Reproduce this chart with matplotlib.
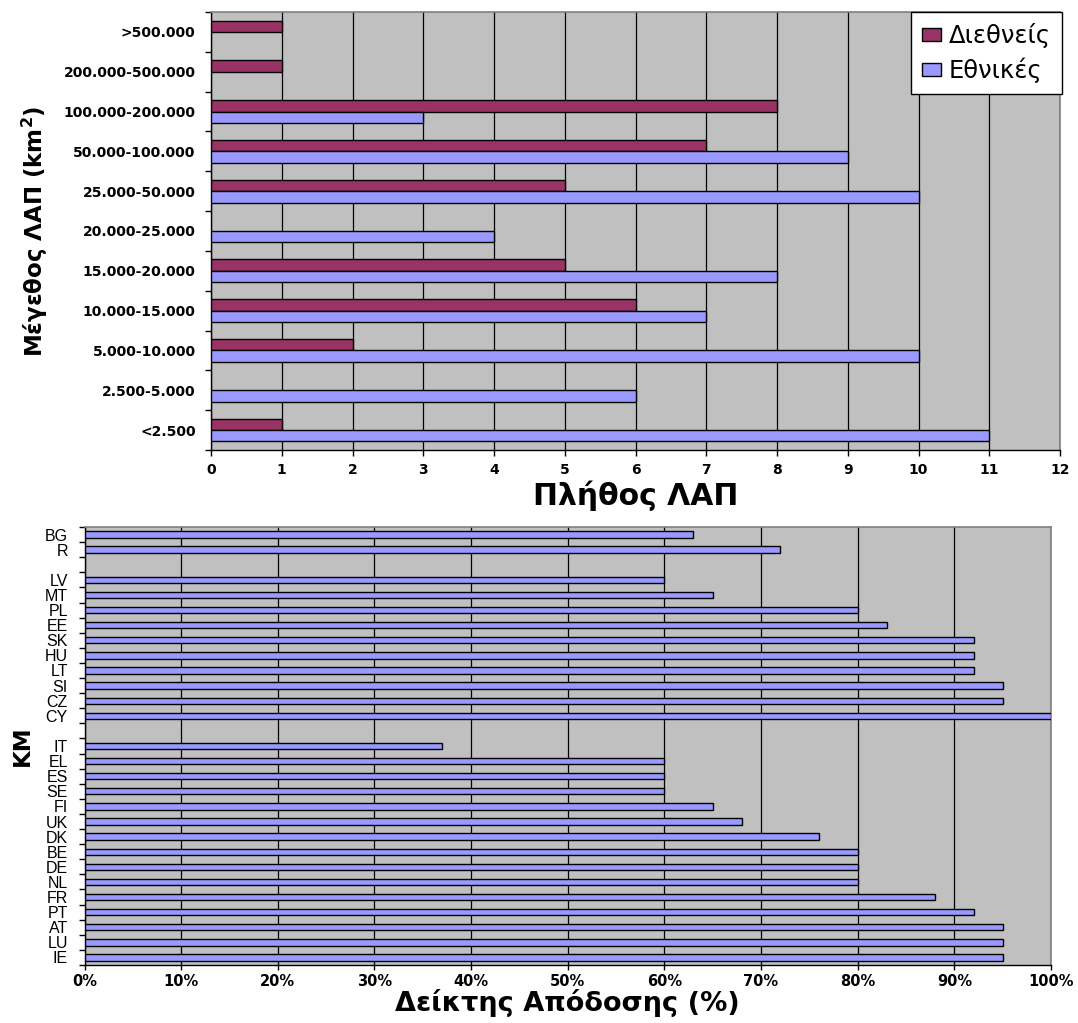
import numpy as np
import matplotlib
matplotlib.use("Agg")
import matplotlib.pyplot as plt
from matplotlib.patches import Patch
from matplotlib.ticker import FixedLocator, NullFormatter, FuncFormatter

# ---- Protected areas by size class (count) ----
size_classes = ["<2.500", "2.500-5.000", "5.000-10.000", "10.000-15.000",
                "15.000-20.000", "20.000-25.000", "25.000-50.000",
                "50.000-100.000", "100.000-200.000", "200.000-500.000",
                ">500.000"]
international = [1, 0, 2, 6, 5, 0, 5, 7, 8, 1, 1]
national = [11, 6, 10, 7, 8, 4, 10, 9, 3, 0, 0]
series_names = ["Διεθνείς", "Εθνικές"]

# ---- Performance index per member state (%), bottom to top; "" = spacer row ----
member_states = ["IE", "LU", "AT", "PT", "FR", "NL", "DE", "BE", "DK", "UK",
                 "FI", "SE", "ES", "EL", "IT", "",
                 "CY", "CZ", "SI", "LT", "HU", "SK", "EE", "PL", "MT", "LV", "",
                 "R", "BG"]
performance = [95, 95, 95, 92, 88, 80, 80, 80, 76, 68,
               65, 60, 60, 60, 37, None,
               100, 95, 95, 92, 92, 92, 83, 80, 65, 60, None,
               72, 63]

C_INT = "#993366"
C_NAT = "#9999FF"
BG = "#C0C0C0"
W, H = 1078, 1023

fig = plt.figure(figsize=(W / 100, H / 100), dpi=100)

def fig_rect(left, top, right, bottom):
    return [left / W, 1 - bottom / H, (right - left) / W, (bottom - top) / H]

BOLD = dict(family="DejaVu Sans", weight="bold")

def style_axes(ax):
    ax.set_facecolor(BG)
    ax.set_axisbelow(True)
    ax.xaxis.grid(True, color="black", lw=0.9)
    for s in ("left", "bottom"):
        ax.spines[s].set_color("black")
        ax.spines[s].set_linewidth(1.0)
    for s in ("top", "right"):
        ax.spines[s].set_color("#808080")
        ax.spines[s].set_linewidth(1.2)
    ax.tick_params(axis="x", which="major", direction="out", length=4,
                   width=1, color="black", pad=5)
    ax.tick_params(axis="y", which="major", direction="out", length=4.5,
                   width=1, color="black")
    ax.tick_params(axis="y", which="minor", length=0)

# ================= Top chart =================
ax1 = fig.add_axes(fig_rect(211, 12, 1060, 450))
style_axes(ax1)
n1 = len(size_classes)
pos1 = np.arange(n1)
bh = 0.285
int_v = np.array(international, dtype=float)
nat_v = np.array(national, dtype=float)
mi = int_v > 0
mn = nat_v > 0
ax1.barh(pos1[mi] + bh / 2, int_v[mi], height=bh, color=C_INT,
         edgecolor="black", lw=1.0, zorder=3)
ax1.barh(pos1[mn] - bh / 2, nat_v[mn], height=bh, color=C_NAT,
         edgecolor="black", lw=1.0, zorder=3)
ax1.set_xlim(0, 12)
ax1.set_ylim(-0.5, n1 - 0.5)
ax1.set_xticks(np.arange(0, 13, 1))
ax1.yaxis.set_major_locator(FixedLocator(np.arange(-0.5, n1, 1)))
ax1.yaxis.set_major_formatter(NullFormatter())
ax1.yaxis.set_minor_locator(FixedLocator(pos1))
ax1.set_yticklabels(size_classes, minor=True)
ax1.tick_params(axis="y", which="minor", pad=11)
for lbl in ax1.get_xticklabels():
    lbl.set(fontsize=10, **BOLD)
for lbl in ax1.get_yticklabels(minor=True):
    lbl.set(fontsize=10, **BOLD)
ax1.set_xlabel("Πλήθος ΛΑΠ", fontsize=21.5, labelpad=3, **BOLD)
ax1.set_ylabel("Μέγεθος ΛΑΠ (km$^\\mathbf{2}$)", fontsize=16.5, labelpad=10,
               **BOLD)

handles = [Patch(facecolor=C_INT, edgecolor="black", lw=1.0),
           Patch(facecolor=C_NAT, edgecolor="black", lw=1.0)]
leg = fig.legend(handles, series_names, loc="upper right",
                 bbox_to_anchor=(1062 / W, 1 - 12 / H),
                 bbox_transform=fig.transFigure, borderaxespad=0,
                 frameon=True, fancybox=False, framealpha=1,
                 edgecolor="black", prop=dict(family="DejaVu Sans", size=17.5),
                 handlelength=0.75, handleheight=0.45, handletextpad=0.35,
                 labelspacing=0.4, borderpad=0.45)
leg.get_frame().set_linewidth(1.0)

# ================= Bottom chart =================
ax2 = fig.add_axes(fig_rect(84.5, 527, 1051, 965))
style_axes(ax2)
n2 = len(member_states)
pos2 = np.arange(n2)
perf = np.array([np.nan if v is None else v for v in performance], dtype=float)
mp = ~np.isnan(perf)
ax2.barh(pos2[mp], perf[mp], height=0.42, color=C_NAT, edgecolor="black",
         lw=1.0, zorder=3)
ax2.set_xlim(0, 100)
ax2.set_ylim(-0.5, n2 - 0.5)
ax2.set_xticks(np.arange(0, 101, 10))
ax2.xaxis.set_major_formatter(FuncFormatter(lambda v, p: f"{v:.0f}%"))
ax2.yaxis.set_major_locator(FixedLocator(np.arange(-0.5, n2, 1)))
ax2.yaxis.set_major_formatter(NullFormatter())
ax2.yaxis.set_minor_locator(FixedLocator(pos2))
ax2.set_yticklabels(member_states, minor=True)
ax2.tick_params(axis="y", which="minor", pad=12)
ax2.tick_params(axis="x", which="major", length=3.5, pad=3)
for lbl in ax2.get_xticklabels():
    lbl.set(fontsize=10.5, **BOLD)
for lbl in ax2.get_yticklabels(minor=True):
    lbl.set(fontsize=11.5, family="Liberation Sans")
ax2.set_xlabel("Δείκτης Απόδοσης (%)", fontsize=19.5, labelpad=0, **BOLD)
ax2.set_ylabel("ΚΜ", fontsize=16.5, labelpad=8, **BOLD)

fig.savefig("out.png", dpi=100)
